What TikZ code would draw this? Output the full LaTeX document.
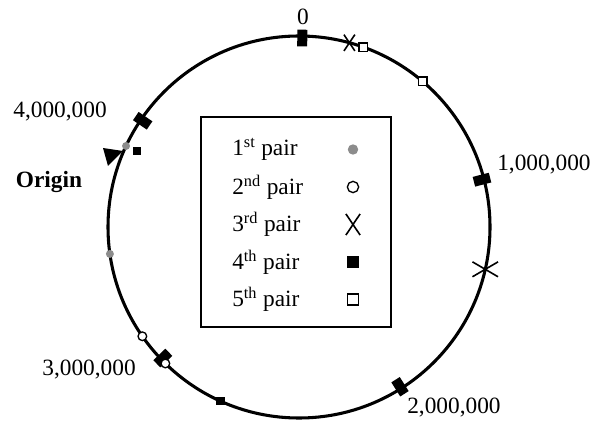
\documentclass[tikz,border=0pt]{standalone}
\usepackage{fontspec}
\setmainfont{Liberation Serif}
\usetikzlibrary{shapes.misc}

\begin{document}
\begin{tikzpicture}[
    x=0.75pt, y=0.75pt,
    every node/.style={inner sep=0pt},
    lbl/.style={font=\fontsize{17.5}{20}\selectfont},
    ring/.style={line width=2.3pt},
    tick/.style={fill=black, minimum width=12.5pt, minimum height=7.5pt},
    graydot/.style={circle, fill=black!45, minimum size=6pt},
    opendot/.style={circle, draw, fill=white, line width=1pt, minimum size=6.5pt},
    xmark/.style={cross out, draw, line width=1.2pt, minimum width=7pt, minimum height=11pt},
    fillsq/.style={rectangle, fill=black, minimum size=6.5pt},
    opensq/.style={rectangle, draw, fill=white, line width=1pt, minimum size=6.5pt}
]

\useasboundingbox (0,0) rectangle (609,421);

\pgfmathsetmacro{\R}{191}
\coordinate (O) at (299,194);

% Ring
\draw[ring] (O) circle (\R);

% Ticks every million
\foreach \a/\nm in {89/t0, 14.5/t1, -57.7/t2, 223.9/t3, 145.8/t4}
    \node[tick, rotate=\a] (\nm) at ([shift={(\a:\R-2)}]O) {};

% Tick labels
\node[lbl] (lab0) at (303,404) {0};
\node[lbl, anchor=west] (lab1) at (497,256) {1,000,000};
\node[lbl, anchor=west] (lab2) at (407,13) {2,000,000};
\node[lbl, anchor=east] (lab3) at (136,51) {3,000,000};
\node[lbl] (lab4) at (60,309) {4,000,000};

% Origin
\fill (103,273) -- (123,270) -- (108,255) -- cycle;
\node[lbl] (orig) at (49,239) {\bfseries Origin};

% Pairs on the ring
\node[graydot] (a1) at ([shift={(154.9:\R)}]O) {};
\node[graydot] (a2) at ([shift={(188.1:\R)}]O) {};
\node[opendot] (b1) at ([shift={(214.9:\R)}]O) {};
\node[opendot] (b2) at ([shift={(225.6:\R)}]O) {};
\node[xmark] (c1) at ([shift={(74.7:\R)}]O) {};
\node[xmark, minimum width=18pt, minimum height=10pt] (c2) at ([shift={(-12.8:\R)}]O) {};
\node[fillsq] (d1) at ([shift={(154.9:179)}]O) {};
\node[fillsq] (d2) at ([shift={(245.7:\R)}]O) {};
\node[opensq] (e1) at ([shift={(70.3:\R)}]O) {};
\node[opensq] (e2) at ([shift={(49.7:\R)}]O) {};

% Legend
\draw[line width=1.2pt] (201,94) rectangle (391,304);
\foreach \n/\sfx/\sty [count=\k] in {1/st/graydot, 2/nd/opendot, 3/rd/xmark, 4/th/fillsq, 5/th/opensq} {
    \node[lbl, anchor=west] (key\k) at (232,309-37.5*\k) {\n\textsuperscript{\sfx} pair};
    \node[\sty, scale=1.3] (sym\k) at (353,309-37.5*\k) {};
}

\end{tikzpicture}
\end{document}
